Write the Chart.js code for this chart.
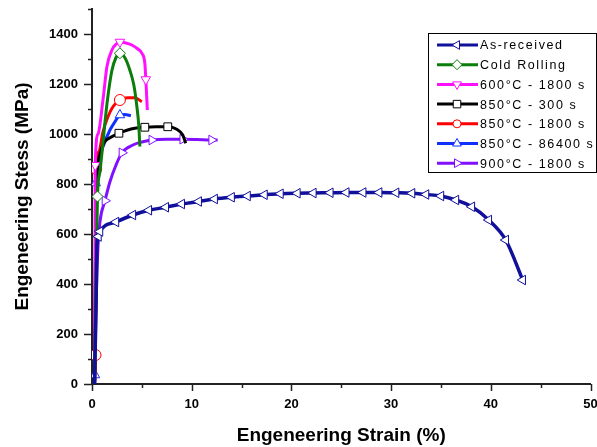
<!DOCTYPE html>
<html>
<head>
<meta charset="utf-8">
<script src="https://cdn.jsdelivr.net/npm/chart.js@4/dist/chart.umd.min.js"></script>
<style>
  body { margin: 0; background: #fff; }
  canvas { display: block; }
</style>
</head>
<body>
<canvas id="chartCanvas" width="597" height="447"></canvas>
<script>
// Values (strain in %, stress in MPa)
const asReceivedStrain = [0.25, 0.4, 0.5, 0.65, 0.8, 2.4, 4.1, 5.7, 7.4, 9.0, 10.7, 12.3, 14.0, 15.6, 17.3, 18.9, 20.6, 22.2, 23.9, 25.5, 27.2, 28.8, 30.5, 32.1, 33.5, 35.0, 36.5, 38.1, 39.8, 41.5, 43.2];
const asReceivedStress = [0, 300, 560, 590, 610, 648, 676, 695, 707, 720, 730, 740, 747, 752, 757, 761, 763, 764, 765, 766, 766, 766, 765, 763, 758, 752, 736, 709, 656, 576, 416];

const coldStrain = [0.25, 0.4, 0.55, 0.8, 1.0, 1.5, 2.0, 2.4, 2.8, 3.3, 3.8, 4.2, 4.5, 4.7, 4.8];
const coldStress = [0, 400, 750, 850, 925, 1120, 1255, 1305, 1323, 1305, 1255, 1195, 1110, 1030, 950];

const t600Strain = [0.25, 0.3, 0.32, 0.6, 1.1, 1.5, 2.0, 2.5, 2.8, 3.3, 4.0, 4.6, 5.0, 5.3, 5.4, 5.55];
const t600Stress = [0, 500, 875, 1000, 1136, 1270, 1336, 1362, 1368, 1365, 1356, 1340, 1323, 1283, 1218, 1096];

const t850s300Strain = [0.25, 0.35, 0.5, 0.8, 1.2, 1.8, 2.7, 3.5, 4.3, 5.3, 6.4, 7.6, 8.5, 9.1, 9.4];
const t850s300Stress = [0, 500, 820, 920, 965, 985, 1003, 1015, 1023, 1027, 1029, 1029, 1019, 996, 963];

const t850s1800Strain = [0.25, 0.35, 0.38, 0.42, 0.7, 1.1, 1.6, 2.1, 2.8, 3.6, 4.3, 5.0];
const t850s1800Stress = [0, 116, 500, 860, 930, 1009, 1069, 1109, 1136, 1145, 1145, 1129];

const t850s86400Strain = [0.25, 0.3, 0.34, 0.37, 0.7, 1.1, 1.8, 2.3, 2.8, 3.3, 3.9];
const t850s86400Stress = [0, 36, 450, 804, 900, 949, 1016, 1049, 1076, 1078, 1073];

const t900Strain = [0.25, 0.4, 0.6, 0.8, 1.3, 1.8, 2.4, 3.0, 4.1, 5.1, 6.0, 7.5, 9.1, 10.5, 12.0, 12.6];
const t900Stress = [0, 300, 550, 650, 733, 809, 875, 925, 956, 969, 976, 979, 979, 978, 976, 976];

// Indices of the points that carry a marker
const asReceivedMarks = asReceivedStrain.map((s, i) => i).filter((i) => i >= 3);
const coldMarks = [2, 8];
const t600Marks = [2, 8, 14];
const t850s300Marks = [6, 9, 11];
const t850s1800Marks = [1, 3, 8];
const t850s86400Marks = [1, 3, 8];
const t900Marks = [4, 7, 10, 12, 14];

const labels = ["As-received", "Cold Rolling", "600°C - 1800 s", "850°C - 300 s", "850°C - 1800 s", "850°C - 86400 s", "900°C - 1800 s"];

const FONT = "'Liberation Sans', Arial, sans-serif";

function toPoints(xs, ys) {
  return xs.map((x, i) => ({ x: x, y: ys[i] }));
}

function makeDataset(label, xs, ys, marks, color, pointStyle, rotation, width) {
  return {
    label: label,
    data: toPoints(xs, ys),
    showLine: true,
    borderColor: color,
    borderWidth: width,
    cubicInterpolationMode: "monotone",
    pointStyle: pointStyle,
    rotation: rotation,
    pointRadius: (ctx) => (marks.includes(ctx.dataIndex) ? 5.5 : 0),
    pointHoverRadius: 0,
    pointBackgroundColor: "#fff",
    pointBorderColor: color,
    pointBorderWidth: 1,
  };
}

const datasets = [
  makeDataset(labels[0], asReceivedStrain, asReceivedStress, asReceivedMarks, "#10109a", "triangle", 270, 3.5),
  makeDataset(labels[1], coldStrain, coldStress, coldMarks, "#0a7d0a", "rectRot", 0, 3),
  makeDataset(labels[2], t600Strain, t600Stress, t600Marks, "#ff10ff", "triangle", 180, 3),
  makeDataset(labels[3], t850s300Strain, t850s300Stress, t850s300Marks, "#000000", "rect", 0, 3),
  makeDataset(labels[4], t850s1800Strain, t850s1800Stress, t850s1800Marks, "#ff0000", "circle", 0, 3),
  makeDataset(labels[5], t850s86400Strain, t850s86400Stress, t850s86400Marks, "#1030ff", "triangle", 0, 3),
  makeDataset(labels[6], t900Strain, t900Stress, t900Marks, "#8010ff", "triangle", 90, 3),
];

// Marker used in the legend box
function drawMarker(ctx, style, rotation, x, y, r) {
  ctx.save();
  ctx.translate(x, y);
  ctx.rotate((rotation * Math.PI) / 180);
  ctx.beginPath();
  if (style === "triangle") {
    ctx.moveTo(0, -r);
    ctx.lineTo(r * 0.866, r * 0.5);
    ctx.lineTo(-r * 0.866, r * 0.5);
    ctx.closePath();
  } else if (style === "rectRot") {
    ctx.moveTo(0, -r);
    ctx.lineTo(r, 0);
    ctx.lineTo(0, r);
    ctx.lineTo(-r, 0);
    ctx.closePath();
  } else if (style === "rect") {
    const h = r * 0.75;
    ctx.rect(-h, -h, 2 * h, 2 * h);
  } else {
    ctx.arc(0, 0, r * 0.8, 0, Math.PI * 2);
  }
  ctx.fill();
  ctx.stroke();
  ctx.restore();
}

const legendBox = {
  id: "legendBox",
  afterDraw(chart) {
    const ctx = chart.ctx;
    ctx.save();
    ctx.fillStyle = "#fff";
    ctx.fillRect(428, 33, 168, 139);
    ctx.strokeStyle = "#000";
    ctx.lineWidth = 1;
    ctx.strokeRect(428.5, 33.5, 168, 139);
    chart.data.datasets.forEach((ds, i) => {
      const y = 45 + i * 19.7;
      ctx.strokeStyle = ds.borderColor;
      ctx.lineWidth = 3;
      ctx.beginPath();
      ctx.moveTo(437, y);
      ctx.lineTo(478, y);
      ctx.stroke();
      ctx.fillStyle = "#fff";
      ctx.lineWidth = 1;
      drawMarker(ctx, ds.pointStyle, ds.rotation, 457, y, 5);
      ctx.fillStyle = "#000";
      ctx.font = "12.5px " + FONT;
      ctx.letterSpacing = "1.6px";
      ctx.textBaseline = "middle";
      ctx.fillText(ds.label, 480, y + 1);
    });
    ctx.restore();
  },
};

// Outward tick marks, long for labelled ticks and short for the others
const tickMarks = {
  id: "tickMarks",
  afterDraw(chart) {
    const ctx = chart.ctx;
    const { x, y } = chart.scales;
    ctx.save();
    ctx.strokeStyle = "#222";
    ctx.lineWidth = 1.5;
    ctx.beginPath();
    y.ticks.forEach((t) => {
      const py = Math.round(y.getPixelForValue(t.value)) + 0.5;
      const len = t.value % 200 === 0 ? 8 : 4;
      ctx.moveTo(y.right, py);
      ctx.lineTo(y.right - len, py);
    });
    x.ticks.forEach((t) => {
      const px = Math.round(x.getPixelForValue(t.value)) + 0.5;
      const len = t.value % 10 === 0 ? 7 : 4;
      ctx.moveTo(px, x.top);
      ctx.lineTo(px, x.top + len);
    });
    ctx.stroke();
    ctx.restore();
  },
};

function stepTicks(step) {
  return (scale) => {
    const ticks = [];
    for (let v = scale.min; v <= scale.max + 1e-9; v += step) ticks.push({ value: v });
    scale.ticks = ticks;
  };
}

new Chart(document.getElementById("chartCanvas"), {
  type: "scatter",
  data: { datasets },
  options: {
    responsive: false,
    animation: false,
    devicePixelRatio: 1,
    layout: { padding: { top: 9, right: 5, left: 0, bottom: 0 } },
    plugins: { legend: { display: false }, tooltip: { enabled: false } },
    scales: {
      x: {
        type: "linear",
        min: 0,
        max: 50,
        afterBuildTicks: stepTicks(5),
        afterFit: (s) => {
          s.height = 63;
          s.paddingLeft = 0;
          s.paddingRight = 0;
        },
        grid: { display: false, drawTicks: false },
        border: { display: true, color: "#222", width: 2 },
        ticks: {
          padding: 13,
          color: "#000",
          font: { family: FONT, size: 13, weight: "bold" },
          maxRotation: 0,
          autoSkip: false,
          callback: (v) => (v % 10 === 0 ? v : ""),
        },
        title: {
          display: true,
          text: "Engeneering Strain (%)",
          color: "#000",
          font: { family: FONT, size: 19, weight: "bold" },
          padding: { top: 0, bottom: 0 },
        },
      },
      y: {
        type: "linear",
        min: 0,
        max: 1500,
        afterBuildTicks: stepTicks(100),
        afterFit: (s) => {
          s.width = 92;
          s.paddingTop = 0;
          s.paddingBottom = 0;
        },
        grid: { display: false, drawTicks: false },
        border: { display: true, color: "#222", width: 2 },
        ticks: {
          padding: 14,
          color: "#000",
          font: { family: FONT, size: 13, weight: "bold" },
          autoSkip: false,
          callback: (v) => (v % 200 === 0 ? v : ""),
        },
        title: {
          display: true,
          text: "Engeneering Stess (MPa)",
          color: "#000",
          font: { family: FONT, size: 19, weight: "bold" },
          padding: { top: 11, bottom: 0 },
        },
      },
    },
  },
  plugins: [tickMarks, legendBox],
});
</script>
</body>
</html>
